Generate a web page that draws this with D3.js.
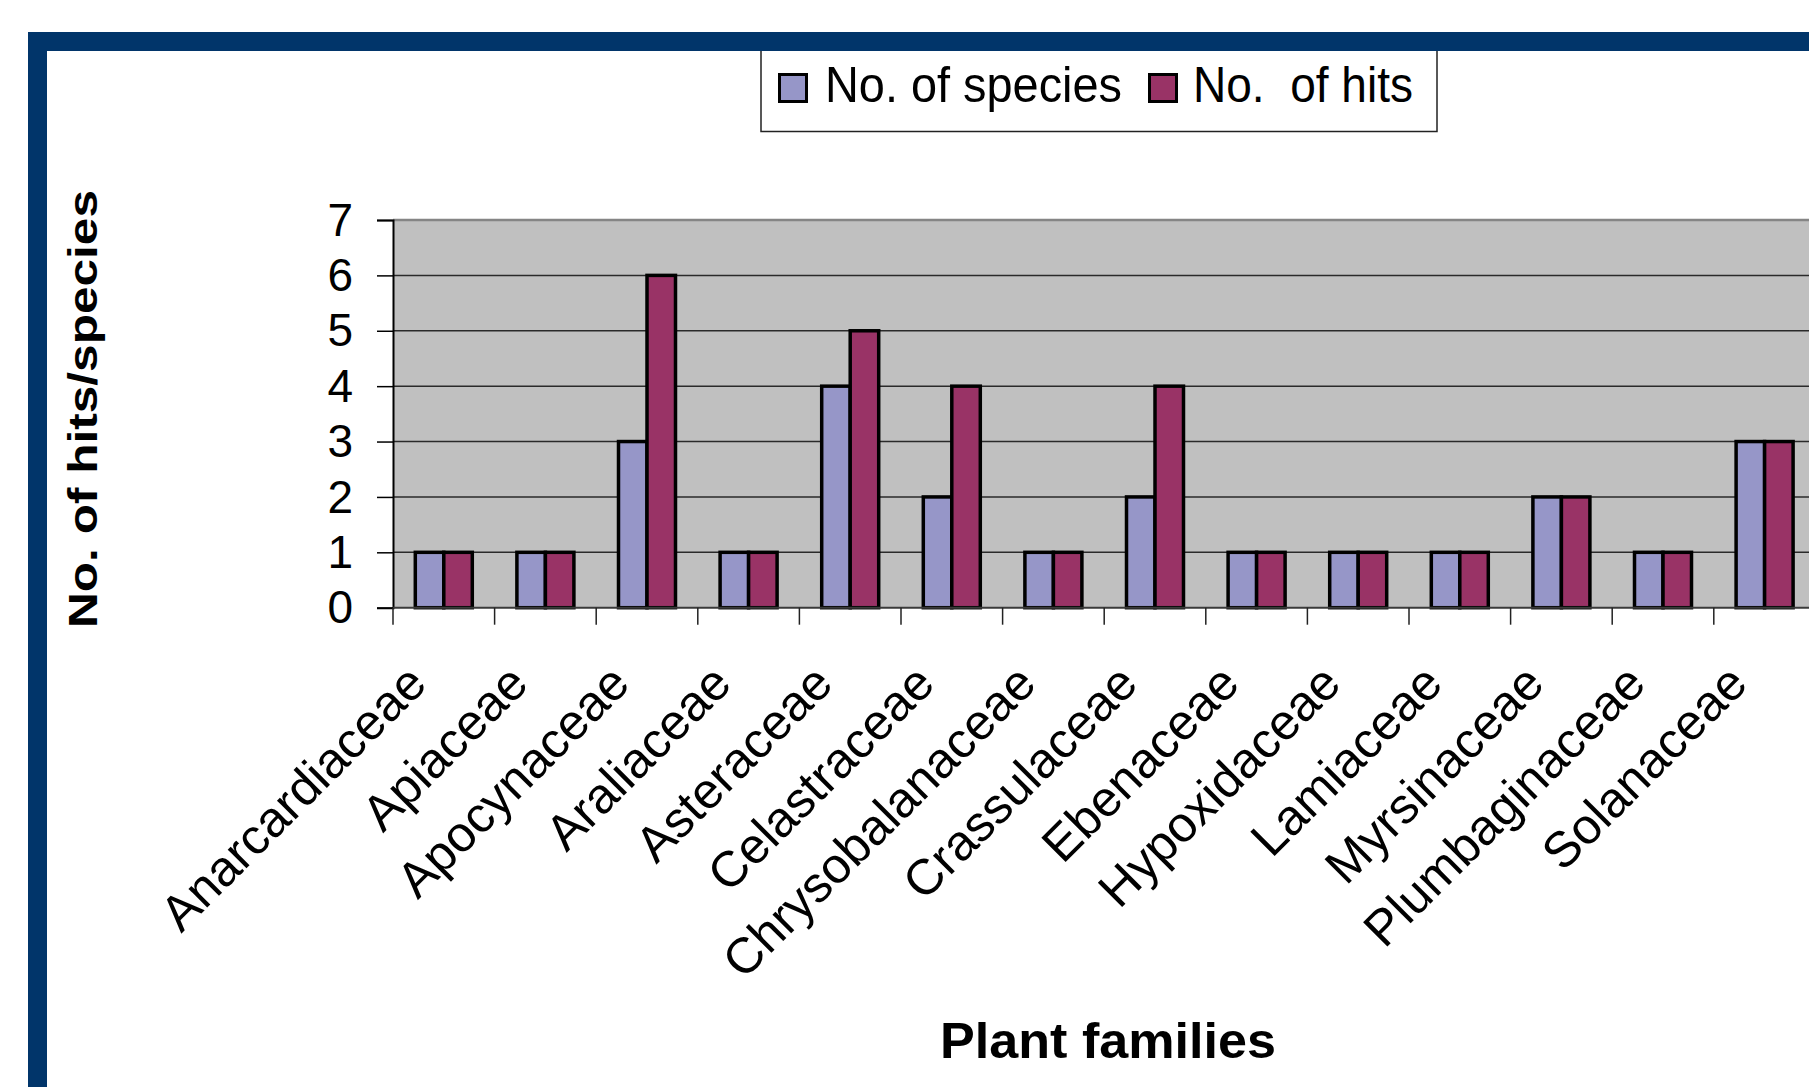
<!DOCTYPE html>
<html>
<head>
<meta charset="utf-8">
<script src="https://cdn.jsdelivr.net/npm/d3@7/dist/d3.min.js"></script>
<style>
  html, body { margin: 0; padding: 0; background: #fff; }
  svg { display: block; }
  text { font-family: "Liberation Sans", Arial, Helvetica, sans-serif; fill: #000; }
</style>
</head>
<body>
<script>
// Plant families and the two counted series
const categories = [
  "Anarcardiaceae", "Apiaceae", "Apocynaceae", "Araliaceae", "Asteraceae",
  "Celastraceae", "Chrysobalanaceae", "Crassulaceae", "Ebenaceae",
  "Hypoxidaceae", "Lamiaceae", "Myrsinaceae", "Plumbaginaceae", "Solanaceae"
];
const speciesCounts = [1, 1, 3, 1, 4, 2, 1, 2, 1, 1, 1, 2, 1, 3];
const hitCounts     = [1, 1, 6, 1, 5, 4, 1, 4, 1, 1, 1, 2, 1, 3];
const seriesNames = ["No. of species", "No.  of hits"];
const seriesColors = ["#9696C8", "#993366"];
const yTickValues = [0, 1, 2, 3, 4, 5, 6, 7];

const W = 1809, H = 1087;
const plot = { left: 393, top: 220, bottom: 607.7, right: 393 + 101.6 * categories.length };

const svg = d3.select("body").append("svg")
  .attr("width", W).attr("height", H)
  .attr("viewBox", `0 0 ${W} ${H}`);

svg.append("rect").attr("width", W).attr("height", H).attr("fill", "#fff");

const rows = categories.map((c, i) => ({ name: c, values: [speciesCounts[i], hitCounts[i]] }));

const x0 = d3.scaleBand().domain(categories).range([plot.left, plot.right])
  .paddingInner(0.439).paddingOuter(0.2195);
const x1 = d3.scaleBand().domain([0, 1]).range([0, x0.bandwidth()]);
const y = d3.scaleLinear().domain([0, 7]).range([plot.bottom, plot.top]);

// plot area background
svg.append("rect")
  .attr("x", plot.left).attr("y", plot.top)
  .attr("width", plot.right - plot.left).attr("height", plot.bottom - plot.top)
  .attr("fill", "#C0C0C0");

// horizontal gridlines
svg.append("g").selectAll("line")
  .data(yTickValues.filter(v => v > 0 && v < 7))
  .join("line")
  .attr("x1", plot.left).attr("x2", plot.right)
  .attr("y1", d => y(d)).attr("y2", d => y(d))
  .attr("stroke", "#2a2a2a").attr("stroke-width", 1.5);

// top edge of plot area
svg.append("line")
  .attr("x1", plot.left).attr("x2", plot.right)
  .attr("y1", y(7)).attr("y2", y(7))
  .attr("stroke", "#858585").attr("stroke-width", 2.5);

// bars
const groups = svg.append("g").selectAll("g")
  .data(rows).join("g")
  .attr("transform", d => `translate(${x0(d.name)},0)`);

groups.selectAll("rect")
  .data(d => d.values.map((v, k) => ({ k, v })))
  .join("rect")
  .attr("x", d => x1(d.k))
  .attr("width", x1.bandwidth())
  .attr("y", d => y(d.v))
  .attr("height", d => y(0) - y(d.v))
  .attr("fill", d => seriesColors[d.k])
  .attr("stroke", "#000").attr("stroke-width", 3.5);

// y axis
const yAxis = d3.axisLeft(y).tickValues(yTickValues).tickSize(16).tickPadding(24).tickFormat(d3.format("d"));
const gy = svg.append("g").attr("transform", `translate(${plot.left},0)`).call(yAxis);
gy.select(".domain").attr("stroke", "#000").attr("stroke-width", 2);
gy.selectAll(".tick line").attr("stroke", "#000").attr("stroke-width", 1.5);
gy.selectAll(".tick text")
  .attr("font-size", 46).attr("dy", "0.33em")
  .style("font-family", '"Liberation Sans", Arial, sans-serif');

// x axis: tick marks at category boundaries
const step = x0.step();
const boundaries = d3.range(categories.length + 1).map(i => plot.left + i * step);
svg.append("line")
  .attr("x1", plot.left).attr("x2", plot.right)
  .attr("y1", y(0)).attr("y2", y(0))
  .attr("stroke", "#3a3a3a").attr("stroke-width", 2);
svg.append("g").selectAll("line")
  .data(boundaries).join("line")
  .attr("x1", d => d).attr("x2", d => d)
  .attr("y1", y(0)).attr("y2", y(0) + 17)
  .attr("stroke", "#222").attr("stroke-width", 1.5);

// rotated category labels
svg.append("g").selectAll("text")
  .data(categories).join("text")
  .attr("text-anchor", "end")
  .attr("font-size", 50)
  .attr("transform", d => `translate(${x0(d) + x0.bandwidth() / 2 - 15},686) rotate(-45)`)
  .text(d => d);

// axis titles
svg.append("text")
  .attr("transform", "translate(97,409) rotate(-90)")
  .attr("text-anchor", "middle")
  .attr("font-size", 40).attr("font-weight", "bold")
  .attr("textLength", 438).attr("lengthAdjust", "spacingAndGlyphs")
  .text("No. of hits/species");

svg.append("text")
  .attr("x", 1108).attr("y", 1058)
  .attr("text-anchor", "middle")
  .attr("font-size", 50).attr("font-weight", "bold")
  .attr("textLength", 336).attr("lengthAdjust", "spacingAndGlyphs")
  .text("Plant families");

// legend
const legend = svg.append("g");
legend.append("rect")
  .attr("x", 761).attr("y", 40).attr("width", 676).attr("height", 91.5)
  .attr("fill", "#fff").attr("stroke", "#222").attr("stroke-width", 1.5);
const legendItems = [
  { sx: 779.5, tx: 825, tw: 297 },
  { sx: 1149.5, tx: 1193, tw: 220 }
];
legend.selectAll("rect.key")
  .data(legendItems).join("rect").attr("class", "key")
  .attr("x", d => d.sx).attr("y", 74.5).attr("width", 27).attr("height", 27)
  .attr("fill", (d, i) => seriesColors[i])
  .attr("stroke", "#000").attr("stroke-width", 3);
legend.selectAll("text")
  .data(legendItems).join("text")
  .attr("x", d => d.tx).attr("y", 101.5)
  .attr("font-size", 50)
  .attr("textLength", d => d.tw).attr("lengthAdjust", "spacingAndGlyphs")
  .style("white-space", "pre")
  .text((d, i) => seriesNames[i]);

// navy frame
svg.append("rect")
  .attr("x", 37.5).attr("y", 41.5).attr("width", 2000).attr("height", 2000)
  .attr("fill", "none").attr("stroke", "#01356A").attr("stroke-width", 19);
</script>
</body>
</html>
